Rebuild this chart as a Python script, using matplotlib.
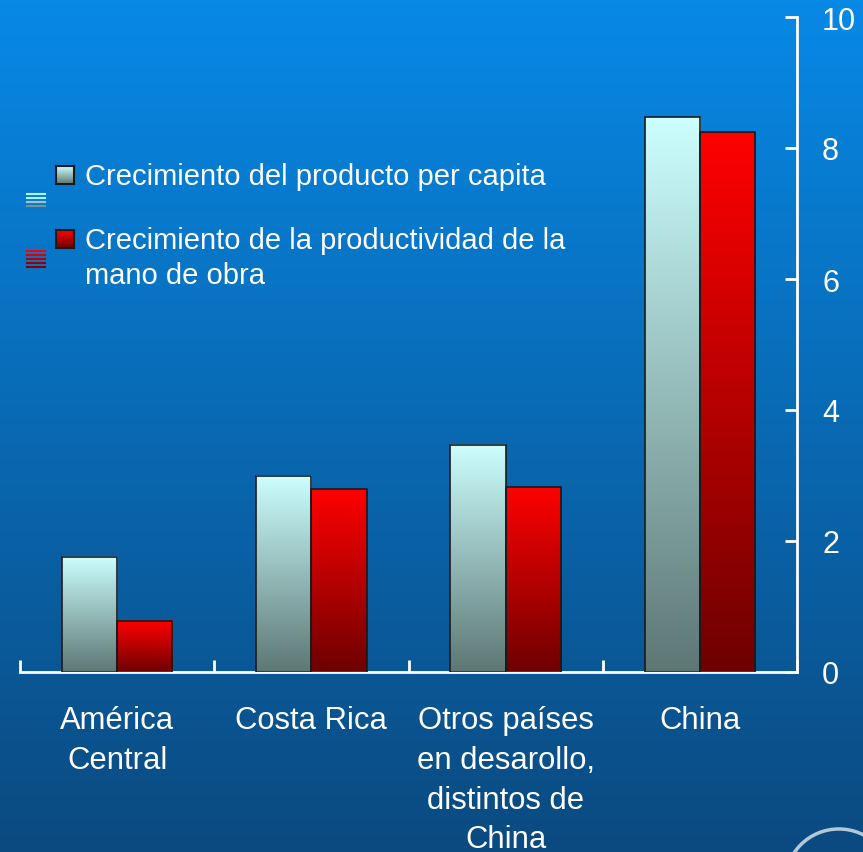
import numpy as np
import matplotlib
matplotlib.use("Agg")
import matplotlib.pyplot as plt
from matplotlib.patches import Rectangle, Circle

plt.rcParams['font.family'] = ['Liberation Sans', 'DejaVu Sans']

categories = ["América\nCentral", "Costa Rica", "Otros países\nen desarollo,\ndistintos de\nChina", "China"]
producto = [1.76, 3.0, 3.47, 8.47]
productividad = [0.78, 2.79, 2.82, 8.24]
labels = ["Crecimiento del producto per capita",
          "Crecimiento de la productividad de la\nmano de obra"]


def ramp(top, bottom, n=256):
    top = np.array(matplotlib.colors.to_rgb(top))
    bottom = np.array(matplotlib.colors.to_rgb(bottom))
    t = np.linspace(0, 1, n)[:, None]
    return (top * (1 - t) + bottom * t)[:, None, :]


fig = plt.figure(figsize=(8.63, 8.53), dpi=100)

# background gradient
bg = fig.add_axes([0, 0, 1, 1], zorder=-10)
bg.imshow(ramp("#0789e6", "#0b4a80"), aspect="auto", extent=[0, 1, 0, 1])
bg.set_xlim(0, 1)
bg.set_ylim(0, 1)
bg.axis("off")
bg.add_patch(Circle((0.972, -0.035), 0.062, facecolor="#0b4a80", edgecolor="#dde8f0", lw=2.5, alpha=0.8))

ax = fig.add_axes([20 / 863, 1 - 673 / 853, 777 / 863, 655 / 853])
ax.patch.set_alpha(0)

x = np.arange(len(categories))
w = 0.285
light = ramp("#ccffff", "#5d7774")
red = ramp("#ff0000", "#6e0000")
for i in x:
    for off, val, cm in [(-w / 2, producto[i], light), (w / 2, productividad[i], red)]:
        x0, x1 = i + off - w / 2, i + off + w / 2
        ax.imshow(cm, aspect="auto", extent=[x0, x1, 0, val], zorder=2)
        ax.add_patch(Rectangle((x0, 0), w, val, fill=False, edgecolor="#1a1a1a", lw=1.2, zorder=3))

ax.set_xlim(-0.5, 3.5)
ax.set_ylim(0, 10)
for s in ["left", "top"]:
    ax.spines[s].set_visible(False)
ax.spines["bottom"].set_color("white")
ax.spines["right"].set_color("white")
ax.spines["bottom"].set_linewidth(2)
ax.spines["right"].set_linewidth(2)
ax.yaxis.tick_right()
ax.set_yticks([0, 2, 4, 6, 8, 10])
ax.tick_params(axis="y", direction="in", length=9, width=2, color="white",
               labelcolor="white", labelsize=22, pad=18)
ax.set_xticks(np.arange(-0.5, 4, 1))
ax.set_xticklabels([])
ax.tick_params(axis="x", direction="in", length=9, width=2, color="white")
for i, c in enumerate(categories):
    ax.text(i, -0.51, c, ha="center", va="top", color="white", fontsize=22.3,
            linespacing=1.42, transform=ax.transData, clip_on=False)

# legend
sw = [("#ccffff", "#5d7774"), ("#ff0000", "#6e0000")]
ys = [176, 240]
for (top, bot), yy, lab in zip(sw, ys, labels):
    y0 = 1 - (yy + 9) / 853
    lax = fig.add_axes([56 / 863, y0, 18 / 863, 18 / 853])
    lax.imshow(ramp(top, bot), aspect="auto", extent=[0, 1, 0, 1])
    lax.set_xticks([])
    lax.set_yticks([])
    for s in lax.spines.values():
        s.set_color("#1a1a1a")
        s.set_linewidth(1.5)
    fig.text(85 / 863, 1 - (yy - 13) / 853, lab, color="white", fontsize=21,
             va="top", ha="left", linespacing=1.3)

# small striped markers
for yy, cols in [(195, ["#aaf4ff", "#aaf4ff", "#9fc4c8", "#7a8f90"]),
                 (252, ["#ff0000", "#dd0000", "#bb0000", "#990000", "#880000"])]:
    for k, c in enumerate(cols):
        bg.plot([27 / 863, 45 / 863], [1 - (yy + 4 * k) / 853] * 2, color=c, lw=1.5)

fig.savefig("out.png", dpi=100)
